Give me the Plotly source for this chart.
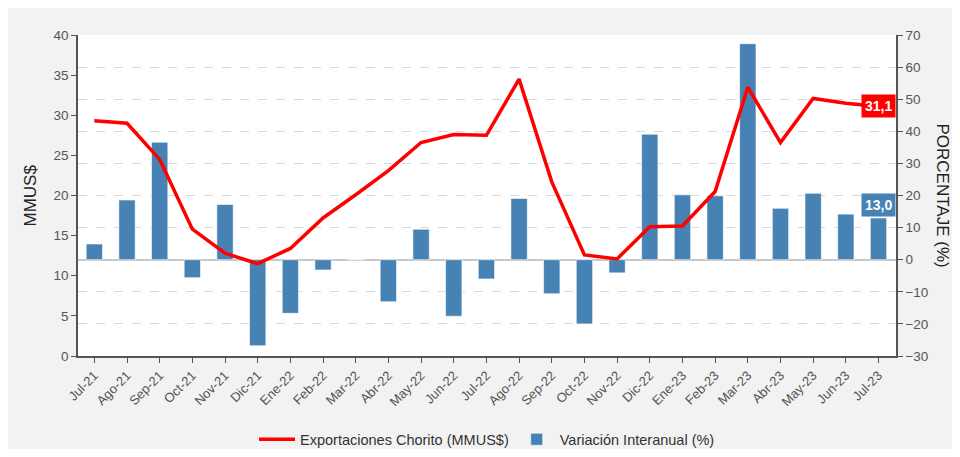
import plotly.graph_objects as go

months = ["Jul-21", "Ago-21", "Sep-21", "Oct-21", "Nov-21", "Dic-21", "Ene-22", "Feb-22",
          "Mar-22", "Abr-22", "May-22", "Jun-22", "Jul-22", "Ago-22", "Sep-22", "Oct-22",
          "Nov-22", "Dic-22", "Ene-23", "Feb-23", "Mar-23", "Abr-23", "May-23", "Jun-23", "Jul-23"]
exportaciones = [29.3, 29.0, 24.5, 15.8, 12.8, 11.5, 13.4, 17.2, 20.1, 23.1, 26.6, 27.6, 27.5,
                 34.5, 21.7, 12.6, 12.1, 16.1, 16.2, 20.5, 33.5, 26.6, 32.1, 31.5, 31.1]
variacion = [4.9, 18.6, 36.6, -5.6, 17.2, -26.8, -16.7, -3.2, 0.0, -13.1, 9.5, -17.6, -6.0,
             19.1, -10.6, -20.0, -4.1, 39.1, 20.2, 19.9, 67.3, 16.0, 20.7, 14.2, 13.0]

RED = "#ff0000"
BLUE = "#4682b4"
FONT = "Liberation Sans, Arial, sans-serif"

fig = go.Figure()
fig.add_trace(go.Bar(
    x=months, y=variacion, name="Variación Interanual (%)", yaxis="y",
    marker=dict(color=BLUE, line=dict(color="rgba(255,255,255,0.6)", width=1)),
    legendrank=2,
))
fig.add_trace(go.Scatter(
    x=months, y=exportaciones, name="Exportaciones Chorito (MMUS$)", yaxis="y2",
    mode="lines", line=dict(color=RED, width=3.5), legendrank=1,
))

fig.update_layout(
    width=944, height=441,
    paper_bgcolor="#f2f2f2", plot_bgcolor="#ffffff",
    margin=dict(l=70, r=56, t=27, b=93, autoexpand=False),
    font=dict(family=FONT, color="#555555", size=13),
    bargap=0.5,
    showlegend=True,
    legend=dict(orientation="h", x=0.5, xanchor="center", xref="paper",
                y=0.022, yanchor="middle", yref="container",
                font=dict(size=14.5, color="#333333"), bgcolor="rgba(0,0,0,0)",
                itemwidth=36),
    xaxis=dict(type="category", categoryorder="array", categoryarray=months,
               tickangle=-45, ticks="outside", ticklen=5, tickcolor="#555555",
               showline=True, linecolor="#555555", linewidth=1.5, mirror=False,
               showgrid=False, automargin=False, tickfont=dict(size=13, color="#555555")),
    yaxis=dict(side="right", range=[-30, 70], dtick=10, tick0=0,
               showgrid=True, gridcolor="#d9d9d9", griddash="dash", gridwidth=1,
               zeroline=True, zerolinecolor="#c8c8c8", zerolinewidth=1.5,
               showline=True, linecolor="#555555", linewidth=1.5,
               ticks="outside", ticklen=5, tickcolor="#555555", automargin=False,
               tickfont=dict(size=13.5, color="#555555")),
    yaxis2=dict(side="left", overlaying="y", range=[0, 40], dtick=5, tick0=0,
                showgrid=False, zeroline=False,
                showline=True, linecolor="#555555", linewidth=1.5,
                ticks="outside", ticklen=5, tickcolor="#555555", automargin=False,
                tickfont=dict(size=13.5, color="#555555")),
)

fig.add_annotation(text="MMUS$", xref="paper", yref="paper", x=0, y=0.5, xshift=-48,
                   textangle=-90, showarrow=False, xanchor="center", yanchor="middle",
                   font=dict(size=17, color="#222222"))
fig.add_annotation(text="PORCENTAJE (%)", xref="paper", yref="paper", x=1, y=0.5, xshift=46,
                   textangle=90, showarrow=False, xanchor="center", yanchor="middle",
                   font=dict(size=17, color="#222222"))

fig.add_annotation(text="<b>31,1</b>", x=months[-1], y=exportaciones[-1], xref="x", yref="y2",
                   showarrow=False, bgcolor=RED, borderpad=3,
                   font=dict(size=14, color="#ffffff"), xanchor="center", yanchor="middle")
fig.add_annotation(text="<b>13,0</b>", x=months[-1], y=variacion[-1], xref="x", yref="y",
                   showarrow=False, bgcolor=BLUE, borderpad=3, yshift=13,
                   font=dict(size=14, color="#ffffff"), xanchor="center", yanchor="middle")

fig.write_html("out.html")
